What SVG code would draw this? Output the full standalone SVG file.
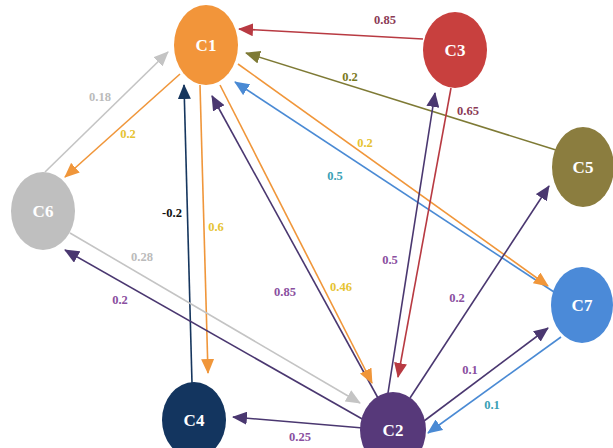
<svg xmlns="http://www.w3.org/2000/svg" width="613" height="448" viewBox="0 0 613 448">
<style>
.e{fill:none;stroke-width:1.6}
.lb{font-family:'Liberation Serif','Times New Roman','DejaVu Serif',serif;font-weight:bold;font-size:12.5px;text-anchor:middle}
.nl{font-family:'Liberation Serif','Times New Roman','DejaVu Serif',serif;font-weight:bold;font-size:17px;fill:#fff;text-anchor:middle}
</style>
<defs>
<marker id="aO" markerUnits="userSpaceOnUse" markerWidth="15" markerHeight="13" refX="14" refY="6.5" orient="auto"><path d="M0,0 L15,6.5 L0,13 Z" fill="#F0963A"/></marker>
<marker id="aR" markerUnits="userSpaceOnUse" markerWidth="15" markerHeight="13" refX="14" refY="6.5" orient="auto"><path d="M0,0 L15,6.5 L0,13 Z" fill="#B83A42"/></marker>
<marker id="aL" markerUnits="userSpaceOnUse" markerWidth="15" markerHeight="13" refX="14" refY="6.5" orient="auto"><path d="M0,0 L15,6.5 L0,13 Z" fill="#7E7A35"/></marker>
<marker id="aB" markerUnits="userSpaceOnUse" markerWidth="15" markerHeight="13" refX="14" refY="6.5" orient="auto"><path d="M0,0 L15,6.5 L0,13 Z" fill="#4A8AD4"/></marker>
<marker id="aG" markerUnits="userSpaceOnUse" markerWidth="15" markerHeight="13" refX="14" refY="6.5" orient="auto"><path d="M0,0 L15,6.5 L0,13 Z" fill="#C4C4C4"/></marker>
<marker id="aN" markerUnits="userSpaceOnUse" markerWidth="15" markerHeight="13" refX="14" refY="6.5" orient="auto"><path d="M0,0 L15,6.5 L0,13 Z" fill="#16365E"/></marker>
<marker id="aP" markerUnits="userSpaceOnUse" markerWidth="15" markerHeight="13" refX="14" refY="6.5" orient="auto"><path d="M0,0 L15,6.5 L0,13 Z" fill="#4A3770"/></marker>
</defs>
<rect width="613" height="448" fill="#fff"/>
<g id="connectors">
<line class="e" x1="423" y1="39" x2="239" y2="29" stroke="#B83A42" marker-end="url(#aR)"/>
<line class="e" x1="556" y1="150" x2="246" y2="53" stroke="#7E7A35" marker-end="url(#aL)"/>
<line class="e" x1="554" y1="292" x2="235" y2="82" stroke="#4A8AD4" marker-end="url(#aB)"/>
<line class="e" x1="238" y1="64" x2="548" y2="286" stroke="#F0963A" marker-end="url(#aO)"/>
<line class="e" x1="180" y1="74" x2="65" y2="177" stroke="#F0963A" marker-end="url(#aO)"/>
<line class="e" x1="45" y1="172" x2="168" y2="52" stroke="#C4C4C4" marker-end="url(#aG)"/>
<line class="e" x1="192" y1="383" x2="184" y2="85" stroke="#16365E" marker-end="url(#aN)"/>
<line class="e" x1="200" y1="85" x2="208" y2="373" stroke="#F0963A" marker-end="url(#aO)"/>
<line class="e" x1="378" y1="398" x2="212" y2="96" stroke="#4A3770" marker-end="url(#aP)"/>
<line class="e" x1="220" y1="85" x2="372" y2="383" stroke="#F0963A" marker-end="url(#aO)"/>
<line class="e" x1="70" y1="233" x2="360" y2="403" stroke="#C4C4C4" marker-end="url(#aG)"/>
<line class="e" x1="364" y1="420" x2="65" y2="250" stroke="#4A3770" marker-end="url(#aP)"/>
<line class="e" x1="388" y1="393" x2="435" y2="93" stroke="#4A3770" marker-end="url(#aP)"/>
<line class="e" x1="451" y1="88" x2="398" y2="377" stroke="#B83A42" marker-end="url(#aR)"/>
<line class="e" x1="410" y1="398" x2="549" y2="186" stroke="#4A3770" marker-end="url(#aP)"/>
<line class="e" x1="424" y1="421" x2="548" y2="328" stroke="#4A3770" marker-end="url(#aP)"/>
<line class="e" x1="561" y1="337" x2="428" y2="433" stroke="#4A8AD4" marker-end="url(#aB)"/>
<line class="e" x1="363" y1="428" x2="233" y2="417" stroke="#4A3770" marker-end="url(#aP)"/>
</g>
<g id="labels">
<text class="lb" x="385" y="24" fill="#8B3A55">0.85</text>
<text class="lb" x="468" y="115" fill="#8B3A55">0.65</text>
<text class="lb" x="350" y="81" fill="#7A7A1E">0.2</text>
<text class="lb" x="365" y="147" fill="#E6C333">0.2</text>
<text class="lb" x="335" y="180" fill="#3A9FB5">0.5</text>
<text class="lb" x="100" y="101" fill="#BBBBBB">0.18</text>
<text class="lb" x="128" y="138" fill="#E6C333">0.2</text>
<text class="lb" x="172" y="217" fill="#111">-0.2</text>
<text class="lb" x="216" y="231" fill="#E6C333">0.6</text>
<text class="lb" x="142" y="261" fill="#BBBBBB">0.28</text>
<text class="lb" x="120" y="304" fill="#8A4FA0">0.2</text>
<text class="lb" x="285" y="296" fill="#8A4FA0">0.85</text>
<text class="lb" x="341" y="291" fill="#E6C333">0.46</text>
<text class="lb" x="390" y="264" fill="#8A4FA0">0.5</text>
<text class="lb" x="457" y="302" fill="#8A4FA0">0.2</text>
<text class="lb" x="470" y="374" fill="#8A4FA0">0.1</text>
<text class="lb" x="492" y="409" fill="#3A9FB5">0.1</text>
<text class="lb" x="300" y="441" fill="#8A4FA0">0.25</text>
</g>
<g id="C1"><ellipse cx="206" cy="45" rx="32" ry="40" fill="#F2953A"/><text class="nl" x="206" y="51">C1</text></g>
<g id="C3"><ellipse cx="455" cy="50" rx="32" ry="38" fill="#C8403E"/><text class="nl" x="455" y="56">C3</text></g>
<g id="C5"><ellipse cx="583" cy="167" rx="31" ry="40" fill="#8B7D3F"/><text class="nl" x="583" y="173">C5</text></g>
<g id="C7"><ellipse cx="582" cy="305" rx="31" ry="38" fill="#4B8AD8"/><text class="nl" x="582" y="311">C7</text></g>
<g id="C6"><ellipse cx="43" cy="211" rx="32" ry="39" fill="#BFBFBF"/><text class="nl" x="43" y="217">C6</text></g>
<g id="C4"><ellipse cx="194" cy="420" rx="32" ry="38" fill="#13355F"/><text class="nl" x="194" y="426">C4</text></g>
<g id="C2"><ellipse cx="393" cy="430" rx="33" ry="38" fill="#57397A"/><text class="nl" x="393" y="436">C2</text></g>
</svg>
